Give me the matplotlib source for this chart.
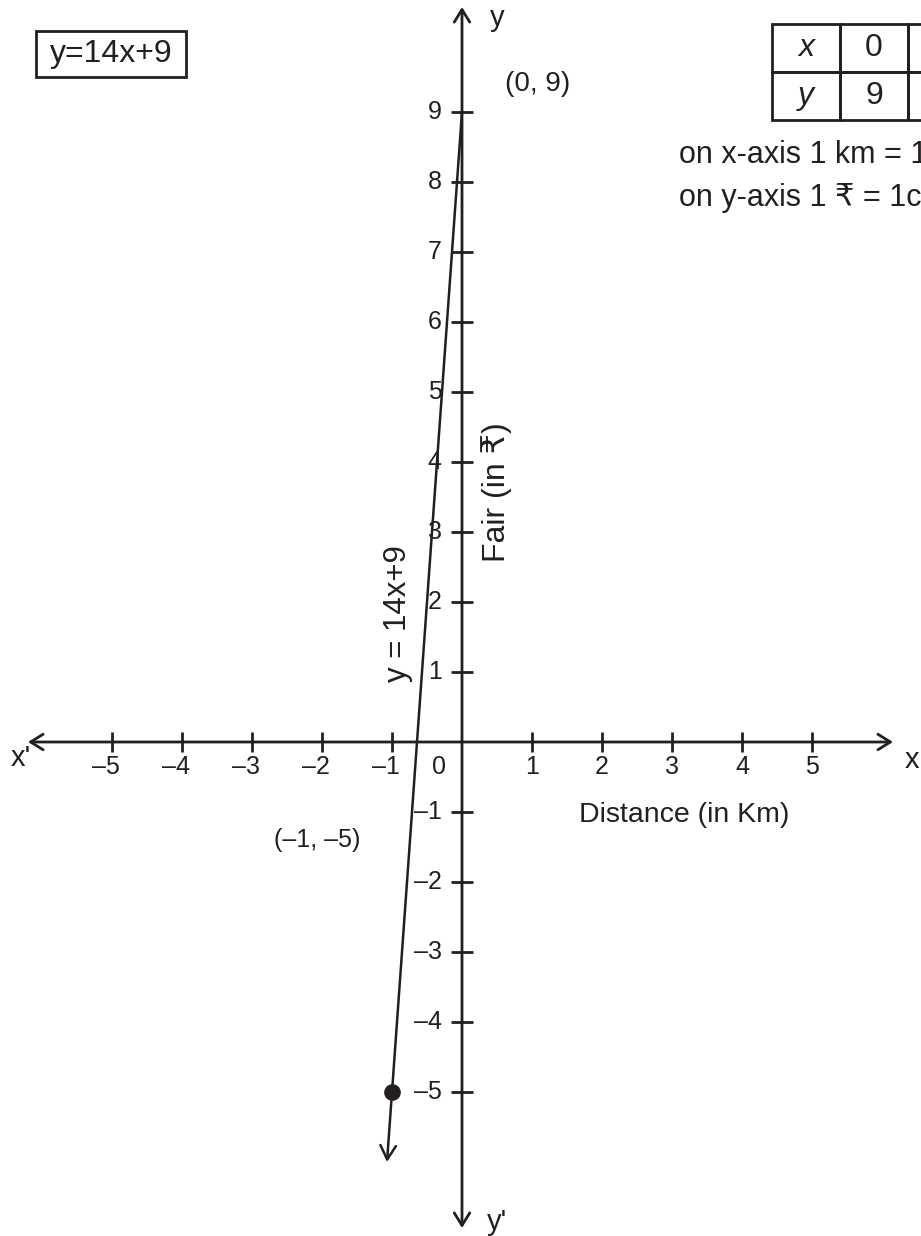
import matplotlib
matplotlib.use("Agg")
import matplotlib.pyplot as plt
from matplotlib.patches import FancyArrowPatch, Rectangle
import numpy as np

plt.rcParams['font.family'] = ['Liberation Sans', 'DejaVu Sans']

# y = 14x + 9
slope = 14
intercept = 9
table_x = [0, -1]
table_y = [9, -5]
line_end_y = -6

x_ticks = [-5, -4, -3, -2, -1, 1, 2, 3, 4, 5]
y_ticks = [-5, -4, -3, -2, -1, 1, 2, 3, 4, 5, 6, 7, 8, 9]

INK = "#231f20"
UNIT = 70          # pixels per unit on both axes
OX, OY = 462, 742  # origin position in pixels
W, H = 921, 1236


def px(x, y):
    '''pixel position -> data coordinates'''
    return (x - OX) / UNIT, (OY - y) / UNIT


def lbl(v):
    return str(v).replace("-", "\u2013")


def main():
    fig = plt.figure(figsize=(W / 100, H / 100), dpi=100)
    ax = fig.add_axes([0, 0, 1, 1])
    ax.set_xlim(-OX / UNIT, (W - OX) / UNIT)
    ax.set_ylim(-(H - OY) / UNIT, OY / UNIT)
    ax.axis("off")

    arrow = dict(arrowstyle="<->,head_length=0.45,head_width=0.28",
                 mutation_scale=20, color=INK, lw=2, shrinkA=0, shrinkB=0)
    # axes with arrows at both ends
    ax.add_patch(FancyArrowPatch(px(28, OY), px(893, OY), **arrow))
    ax.add_patch(FancyArrowPatch(px(OX, 1228), px(OX, 7), **arrow))

    # ticks
    ax.plot(x_ticks, np.zeros(len(x_ticks)), ls="none", marker="|",
            ms=15, mew=2, color=INK)
    ax.plot(np.zeros(len(y_ticks)), y_ticks, ls="none", marker="_",
            ms=16, mew=2, color=INK)

    for v in x_ticks:
        dx = -0.08 if v < 0 else 0
        ax.text(v + dx, -0.36, lbl(v), fontsize=18, ha="center",
                va="center", color=INK)
    for v in y_ticks:
        ax.text(-0.29, v, lbl(v), fontsize=18, ha="right", va="center",
                color=INK)
    ax.text(*px(439, 767), "0", fontsize=18, ha="center", va="center",
            color=INK)

    # axis names
    ax.text(*px(21, 758), "x'", fontsize=21, ha="center", va="center",
            color=INK)
    ax.text(*px(912, 760), "x", fontsize=21, ha="center", va="center",
            color=INK)
    ax.text(*px(497, 18), "y", fontsize=21, ha="center", va="center",
            color=INK)
    ax.text(*px(497, 1222), "y'", fontsize=21, ha="center", va="center",
            color=INK)
    ax.text(*px(684, 815), "Distance (in Km)", fontsize=20.5, ha="center",
            va="center", color=INK)
    ax.text(*px(497, 492), "Fair (in \u20b9)", fontsize=23, rotation=90,
            ha="center", va="center", color=INK)

    # the line through the table points, extended with an arrow
    x_end = (line_end_y - intercept) / slope
    xs = [table_x[0], x_end]
    ys = [slope * table_x[0] + intercept, line_end_y]
    ax.annotate("", xy=(xs[1], ys[1]), xytext=(xs[0], ys[0]),
                arrowprops=dict(arrowstyle="->,head_length=0.5,head_width=0.28",
                                mutation_scale=20, color=INK, lw=1.8,
                                shrinkA=0, shrinkB=0))
    ax.plot(table_x[1], table_y[1], "o", ms=11, color=INK)

    ax.text(*px(538, 84), "(%s, %s)" % (lbl(table_x[0]), lbl(table_y[0])),
            fontsize=20, ha="center", va="center", color=INK)
    ax.text(*px(317, 840), "(%s, %s)" % (lbl(table_x[1]), lbl(table_y[1])),
            fontsize=18, ha="center", va="center", color=INK)
    ax.text(*px(398, 614), "y = 14x+9", fontsize=22.5, rotation=90,
            ha="center", va="center", color=INK)

    # equation box
    ax.add_patch(Rectangle(px(36, 77), 150 / UNIT, 46 / UNIT, fill=False,
                           ec=INK, lw=2))
    ax.text(*px(111, 54), "y=14x+9", fontsize=23, ha="center", va="center",
            color=INK)

    # table of values
    left, top, cw, rh = 772, 24, 68, 48
    rows = [["x"] + [lbl(v) for v in table_x], ["y"] + [lbl(v) for v in table_y]]
    for r, row in enumerate(rows):
        for c, val in enumerate(row):
            x0, y0 = px(left + c * cw, top + (r + 1) * rh)
            ax.add_patch(Rectangle((x0, y0), cw / UNIT, rh / UNIT, fill=False,
                                   ec=INK, lw=2, clip_on=False))
            cx, cy = px(left + c * cw + cw / 2, top + r * rh + rh / 2)
            ax.text(cx, cy, val, fontsize=23, ha="center", va="center",
                    color=INK, style="italic" if c == 0 else "normal")

    ax.text(*px(679, 155), "on x-axis 1 km = 1cm", fontsize=22, ha="left",
            va="center", color=INK)
    ax.text(*px(679, 198), "on y-axis 1 \u20b9 = 1cm", fontsize=22,
            ha="left", va="center", color=INK)

    fig.savefig("out.png", dpi=100)


if __name__ == "__main__":
    main()
